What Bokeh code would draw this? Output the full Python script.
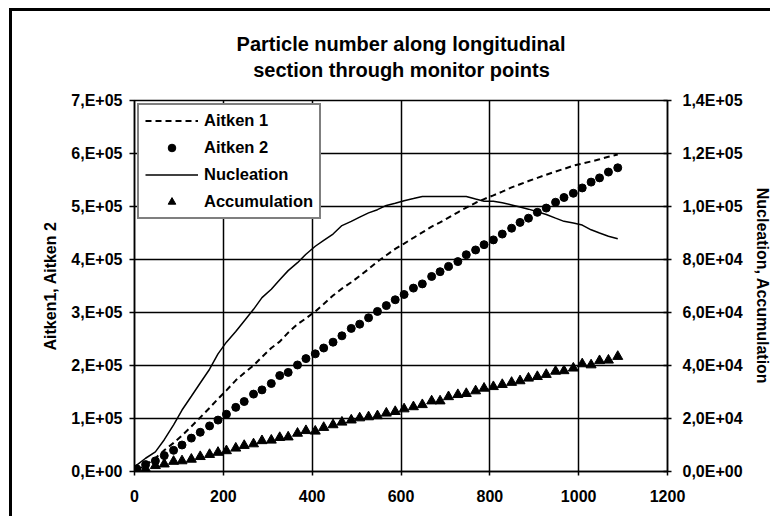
from bokeh.plotting import figure
from bokeh.models import (Range1d, LinearAxis, FixedTicker, Legend, LegendItem, Title)
from bokeh.embed import file_html
from bokeh.resources import INLINE

# ---- data ----
position = [5, 25, 47, 67, 88, 107, 128, 148, 169, 188, 207, 228, 247, 268, 287,
            308, 327, 346, 367, 386, 407, 426, 447, 467, 488, 507, 527, 547, 567,
            587, 607, 628, 648, 669, 688, 707, 728, 747, 768, 787, 808, 828, 849,
            868, 887, 907, 927, 948, 967, 988, 1008, 1028, 1047, 1067, 1088]

aitken1_e5 = [0.03, 0.12, 0.25, 0.40, 0.54, 0.68, 0.85, 1.02, 1.20, 1.37, 1.53, 1.72,
              1.86, 2.00, 2.16, 2.33, 2.45, 2.62, 2.78, 2.89, 3.02, 3.16, 3.32, 3.45,
              3.57, 3.69, 3.82, 3.96, 4.08, 4.20, 4.30, 4.41, 4.51, 4.62, 4.70, 4.79,
              4.89, 4.98, 5.07, 5.14, 5.21, 5.28, 5.36, 5.42, 5.48, 5.54, 5.60, 5.66,
              5.71, 5.77, 5.81, 5.85, 5.89, 5.94, 5.98]

aitken2_e5 = [0.05, 0.13, 0.20, 0.30, 0.40, 0.50, 0.63, 0.74, 0.86, 0.97, 1.08, 1.21,
              1.32, 1.46, 1.54, 1.66, 1.81, 1.87, 2.01, 2.13, 2.22, 2.33, 2.44, 2.56,
              2.70, 2.78, 2.90, 3.02, 3.13, 3.24, 3.34, 3.46, 3.54, 3.68, 3.77, 3.87,
              3.96, 4.09, 4.18, 4.28, 4.37, 4.48, 4.59, 4.70, 4.78, 4.89, 4.97, 5.08,
              5.17, 5.25, 5.35, 5.46, 5.54, 5.65, 5.73]

nucleation_e4 = [0.24, 0.50, 0.74, 1.20, 1.76, 2.32, 2.84, 3.34, 3.86, 4.44, 4.88, 5.28,
                 5.68, 6.12, 6.56, 6.88, 7.24, 7.58, 7.88, 8.20, 8.50, 8.72, 8.96, 9.28,
                 9.44, 9.60, 9.76, 9.88, 10.04, 10.12, 10.22, 10.30, 10.38, 10.38, 10.38,
                 10.38, 10.38, 10.38, 10.28, 10.20, 10.20, 10.14, 10.06, 9.98, 9.90, 9.80,
                 9.70, 9.56, 9.44, 9.38, 9.30, 9.12, 9.00, 8.88, 8.78]

accumulation_e4 = [0.04, 0.10, 0.22, 0.28, 0.38, 0.40, 0.46, 0.56, 0.64, 0.72, 0.78, 0.88,
                   0.98, 1.04, 1.16, 1.18, 1.28, 1.30, 1.44, 1.54, 1.52, 1.66, 1.76, 1.86,
                   1.94, 2.02, 2.06, 2.10, 2.20, 2.26, 2.36, 2.44, 2.52, 2.66, 2.66, 2.82,
                   2.90, 2.94, 3.04, 3.14, 3.20, 3.28, 3.36, 3.42, 3.52, 3.58, 3.66, 3.78,
                   3.80, 3.90, 4.06, 4.02, 4.18, 4.20, 4.34]

x_ticks = [0, 200, 400, 600, 800, 1000, 1200]
x_tick_labels = ["0", "200", "400", "600", "800", "1000", "1200"]
left_ticks = [0, 100000, 200000, 300000, 400000, 500000, 600000, 700000]
left_tick_labels = ["0,E+00", "1,E+05", "2,E+05", "3,E+05", "4,E+05", "5,E+05",
                    "6,E+05", "7,E+05"]
right_ticks = [0, 20000, 40000, 60000, 80000, 100000, 120000, 140000]
right_tick_labels = ["0,0E+00", "2,0E+04", "4,0E+04", "6,0E+04", "8,0E+04",
                     "1,0E+05", "1,2E+05", "1,4E+05"]

title_line1 = "Particle number along longitudinal"
title_line2 = "section through monitor points"
left_label = "Aitken1, Aitken 2"
right_label = "Nucleation, Accumulation"
series_names = ["Aitken 1", "Aitken 2", "Nucleation", "Accumulation"]

aitken1 = [v * 1e5 for v in aitken1_e5]
aitken2 = [v * 1e5 for v in aitken2_e5]
nucleation = [v * 1e4 for v in nucleation_e4]
accumulation = [v * 1e4 for v in accumulation_e4]

FONT = "Liberation Sans"

p = figure(width=761, height=508, output_backend="svg", toolbar_location=None,
           x_range=Range1d(0, 1200), y_range=Range1d(0, 700000),
           min_border_left=122, min_border_right=106, min_border_top=88,
           min_border_bottom=48, title=None)
p.extra_y_ranges = {"right": Range1d(0, 140000)}
p.margin = (0, 0, 0, 0)
p.styles = {"border-left": "3px solid black", "border-top": "3px solid black",
            "margin-left": "9px", "margin-top": "8px"}

# two-line title; line 2 is centred under line 1 with non-breaking spaces
title_text = title_line1 + "\n" + "\u00a0\u00a0\u00a0" + title_line2
t = Title(text=title_text, align="center", text_font=FONT, text_font_size="20px",
          text_font_style="bold", text_color="black", standoff=38,
          text_line_height=1.22, offset=-4)
p.add_layout(t, "above")

p.background_fill_color = "white"
p.border_fill_color = "white"
p.outline_line_color = "black"
p.outline_line_width = 1.5

# grid
p.xgrid.ticker = FixedTicker(ticks=x_ticks)
p.ygrid.ticker = FixedTicker(ticks=left_ticks)
for g in (p.xgrid, p.ygrid):
    g.grid_line_color = "black"
    g.grid_line_width = 1.5
    g.grid_line_alpha = 1.0

def style_axis(ax):
    ax.major_label_text_font = FONT
    ax.major_label_text_font_size = "16px"
    ax.major_label_text_font_style = "bold"
    ax.major_label_text_color = "black"
    ax.axis_label_text_font = FONT
    ax.axis_label_text_font_size = "16px"
    ax.axis_label_text_font_style = "bold"
    ax.axis_label_text_color = "black"
    ax.axis_line_color = "black"
    ax.axis_line_width = 1.5
    ax.major_tick_line_color = "black"
    ax.major_tick_line_width = 1.5
    ax.minor_tick_line_color = None

xa = p.xaxis[0]
xa.ticker = FixedTicker(ticks=x_ticks)
xa.major_label_overrides = dict(zip(x_ticks, x_tick_labels))
style_axis(xa)
xa.major_tick_in = 0
xa.major_tick_out = 4
xa.major_label_standoff = 14

ya = p.yaxis[0]
ya.ticker = FixedTicker(ticks=left_ticks)
ya.major_label_overrides = dict(zip(left_ticks, left_tick_labels))
style_axis(ya)
ya.axis_label = left_label
ya.major_tick_in = 0
ya.major_tick_out = 5
ya.major_label_standoff = 7
ya.axis_label_standoff = 9

ra = LinearAxis(y_range_name="right")
ra.ticker = FixedTicker(ticks=right_ticks)
ra.major_label_overrides = dict(zip(right_ticks, right_tick_labels))
style_axis(ra)
ra.axis_label = right_label
ra.major_tick_in = 4
ra.major_tick_out = 4
ra.major_label_standoff = 11
ra.axis_label_standoff = 8
p.add_layout(ra, "right")

r1 = p.line(position, aitken1, line_color="black", line_width=2, line_dash="6 4")
r2 = p.scatter(position, aitken2, marker="circle", size=8, fill_color="black",
               line_color="black")
r3 = p.line(position, nucleation, line_color="black", line_width=1.5,
            y_range_name="right")
r4 = p.scatter(position, accumulation, marker="triangle", size=10, fill_color="black",
               line_color="black", y_range_name="right")

legend = Legend(items=[LegendItem(label=series_names[0], renderers=[r1]),
                       LegendItem(label=series_names[1], renderers=[r2]),
                       LegendItem(label=series_names[2], renderers=[r3]),
                       LegendItem(label=series_names[3], renderers=[r4])],
                location="top_left")
legend.margin = 3
legend.padding = 6
legend.spacing = 8
legend.glyph_width = 53
legend.glyph_height = 19
legend.label_height = 19
legend.label_standoff = 6
legend.label_text_font = FONT
legend.label_text_font_size = "16.5px"
legend.label_text_font_style = "bold"
legend.label_text_color = "black"
legend.border_line_color = "black"
legend.border_line_width = 2
legend.background_fill_color = "white"
legend.background_fill_alpha = 1.0
p.add_layout(legend, "center")

open("out.html", "w").write(file_html(p, INLINE))
